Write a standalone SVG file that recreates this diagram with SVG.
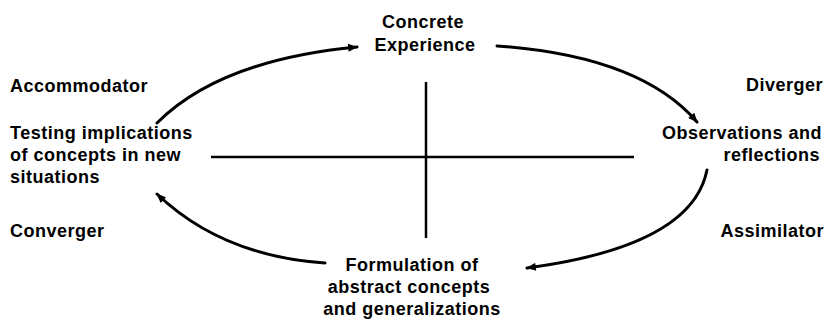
<svg xmlns="http://www.w3.org/2000/svg" width="834" height="321" viewBox="0 0 834 321">
<defs>
<marker id="ah" viewBox="0 0 12 10" refX="11" refY="5" markerWidth="11" markerHeight="8" markerUnits="userSpaceOnUse" orient="auto">
<path d="M0,0 L12,5 L0,10 Z" fill="#000"/>
</marker>
<style>
text{font-family:"Liberation Sans",Arial,sans-serif;font-weight:bold;font-size:18px;letter-spacing:0.5px;fill:#000}
.m{text-anchor:middle}
.e{text-anchor:end}
.ax{stroke:#000;stroke-width:2.5;fill:none}
.arc{stroke:#000;stroke-width:3;fill:none;stroke-linecap:round;marker-end:url(#ah)}
</style>
</defs>
<rect width="834" height="321" fill="#fff"/>
<g id="axes">
<line class="ax" x1="211" y1="157" x2="634" y2="157"/>
<line class="ax" x1="426" y1="82" x2="426" y2="238"/>
</g>
<g id="connectors">
<path class="arc" d="M157,123 Q220,60 357,47"/>
<path class="arc" d="M497,46 Q640,56 697,122"/>
<path class="arc" d="M707,170 Q692,246 527,268"/>
<path class="arc" d="M325,263 Q222,256 157,194"/>
</g>
<g id="concrete-experience">
<text class="m" x="423" y="28">Concrete</text>
<text class="m" x="425" y="51">Experience</text>
</g>
<g id="observations">
<text class="e" x="822" y="139">Observations and</text>
<text class="e" x="820" y="161">reflections</text>
</g>
<g id="formulation">
<text class="m" x="412" y="271">Formulation of</text>
<text class="m" x="409" y="293">abstract concepts</text>
<text class="m" x="412" y="315">and generalizations</text>
</g>
<g id="testing">
<text x="10" y="139">Testing implications</text>
<text x="10" y="161">of concepts in new</text>
<text x="10" y="183">situations</text>
</g>
<g id="accommodator"><text x="10" y="92">Accommodator</text></g>
<g id="diverger"><text class="e" x="823" y="91">Diverger</text></g>
<g id="converger"><text x="10" y="237">Converger</text></g>
<g id="assimilator"><text class="e" x="824" y="237">Assimilator</text></g>
</svg>
